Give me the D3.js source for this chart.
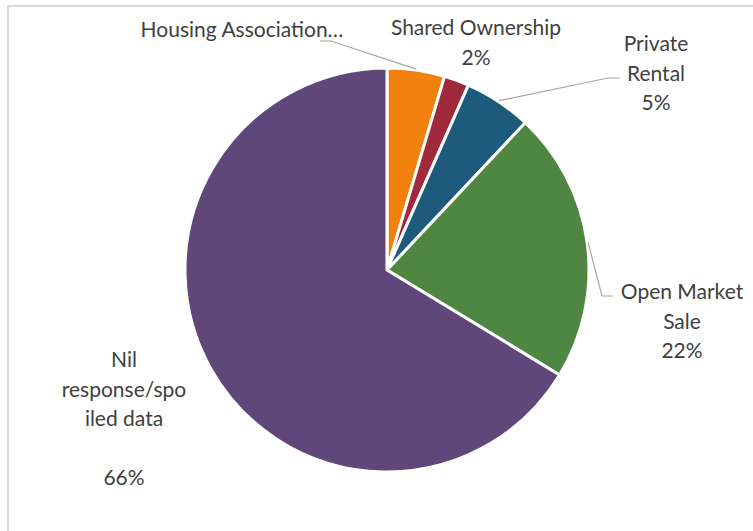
<!DOCTYPE html>
<html>
<head>
<meta charset="utf-8">
<script src="https://cdn.jsdelivr.net/npm/d3@7"></script>
<style>
  body { margin: 0; background: #fff; }
  svg text { font-family: Lato, 'Open Sans', sans-serif; fill: #404040; }
</style>
</head>
<body>
<div id="chart"></div>
<script>
// slice data, clockwise from 12 o'clock
const categories = ['Housing Association…', 'Shared Ownership', 'Private Rental', 'Open Market Sale', 'Nil response/spoiled data']
const values = [4.6, 2.0, 5.4, 21.7, 66.3]
const percentLabels = ['', '2%', '5%', '22%', '66%']
const labelLines = [
  ['Housing Association…'],
  ['Shared Ownership', '2%'],
  ['Private', 'Rental', '5%'],
  ['Open Market', 'Sale', '22%'],
  ['Nil', 'response/spo', 'iled data', '', '66%']
]
const colors = ['#EF810C', '#A0293B', '#1D5A7C', '#4E8642', '#5F4879']

// manual label layout (centre x, first baseline y) and leader elbows
const labelPos = [
  { x: 242, y: 37 },
  { x: 476, y: 35 },
  { x: 656, y: 51 },
  { x: 682, y: 299 },
  { x: 124, y: 367 }
]
const leaders = [
  { elbow: [331, 41], end: [320, 41] },
  null,
  { elbow: [608, 78], end: [620, 78] },
  { elbow: [602, 296], end: [613, 296] },
  null
]

const width = 753
const height = 531
const cx = 387
const cy = 270
const radius = 202
const lineH = 29.5

const svg = d3.select('#chart')
  .append('svg')
  .attr('width', width)
  .attr('height', height)

// chart frame (runs off the right and bottom edge)
svg.append('rect')
  .attr('x', 8)
  .attr('y', 6)
  .attr('width', 800)
  .attr('height', 600)
  .attr('fill', 'none')
  .attr('stroke', '#d9d9d9')
  .attr('stroke-width', 2)

const data = categories.map((c, i) => ({ name: c, value: values[i], i: i }))

const pie = d3.pie()
  .value(d => d.value)
  .sort(null)

const arcs = pie(data)

const arc = d3.arc()
  .innerRadius(0)
  .outerRadius(radius)

const g = svg.append('g')
  .attr('transform', 'translate(' + cx + ',' + cy + ')')

g.selectAll('path')
  .data(arcs)
  .enter()
  .append('path')
  .attr('d', arc)
  .attr('fill', d => colors[d.data.i])
  .attr('stroke', '#fff')
  .attr('stroke-width', 3)
  .attr('stroke-linejoin', 'round')

// leader lines start on the rim at the slice's mid angle
const rim = d3.arc().innerRadius(radius + 1).outerRadius(radius + 1)
arcs.forEach((a, i) => {
  const l = leaders[i]
  if (!l) return
  const p = rim.centroid(a)
  svg.append('polyline')
    .attr('points', [[p[0] + cx, p[1] + cy], l.elbow, l.end].map(q => q.join(',')).join(' '))
    .attr('fill', 'none')
    .attr('stroke', '#a6a6a6')
    .attr('stroke-width', 1.2)
})

// labels
labelLines.forEach((lines, i) => {
  const t = svg.append('text')
    .attr('text-anchor', 'middle')
    .attr('font-size', '21px')
    .attr('x', labelPos[i].x)
    .attr('y', labelPos[i].y)
  lines.forEach((s, k) => {
    t.append('tspan')
      .attr('x', labelPos[i].x)
      .attr('y', labelPos[i].y + k * lineH)
      .text(s)
  })
})
</script>
</body>
</html>
